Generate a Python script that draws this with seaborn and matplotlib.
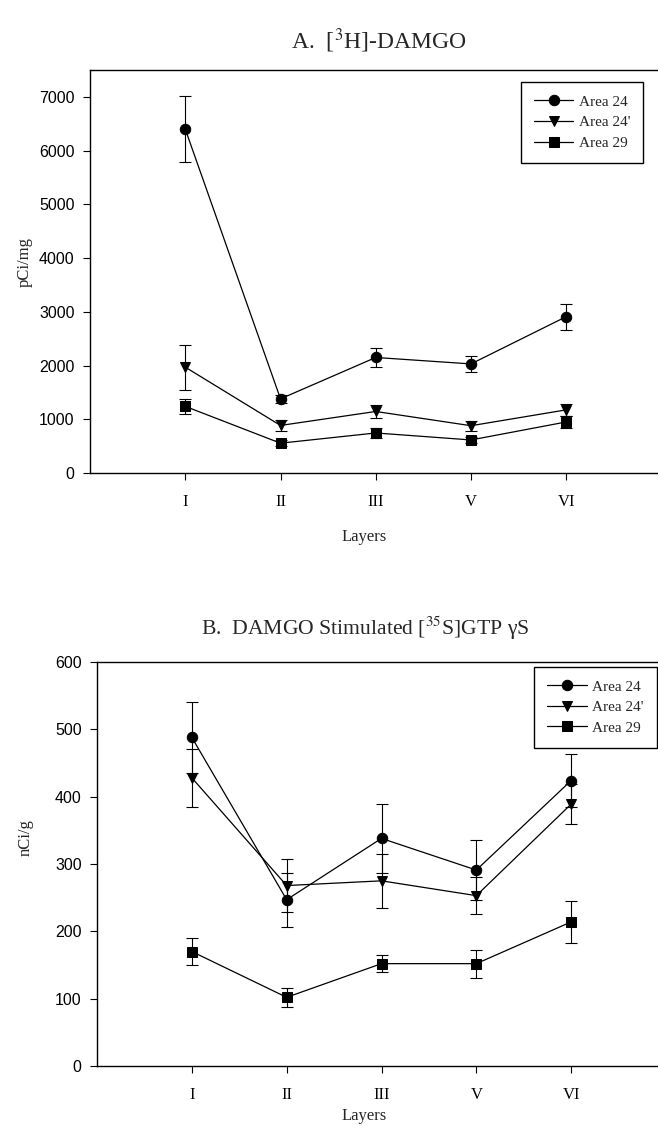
import matplotlib
matplotlib.use("Agg")
import matplotlib.pyplot as plt
import numpy as np
import pandas as pd
import seaborn as sns

LAYERS = ["I", "II", "III", "V", "VI"]
AREAS = ["Area 24", "Area 24'", "Area 29"]

# panel A: [3H]-DAMGO binding, pCi/mg
damgo_24 = [6400, 1380, 2150, 2030, 2910]
damgo_24_err = [610, 80, 170, 150, 240]
damgo_24p = [1970, 885, 1145, 880, 1175]
damgo_24p_err = [420, 100, 120, 90, 110]
damgo_29 = [1240, 555, 745, 615, 950]
damgo_29_err = [140, 50, 90, 50, 110]

# panel B: DAMGO stimulated [35S]GTPgS, nCi/g
gtp_24 = [488, 247, 338, 291, 424]
gtp_24_err = [53, 40, 51, 44, 40]
gtp_24p = [428, 268, 275, 253, 389]
gtp_24p_err = [43, 39, 40, 27, 30]
gtp_29 = [170, 102, 152, 152, 214]
gtp_29_err = [20, 14, 13, 21, 31]

MARKERS = {"Area 24": "o", "Area 24'": "v", "Area 29": "s"}
SERIF = "Liberation Serif"
SANS = "Liberation Sans"


def _frame(values, errors):
    rows = []
    pos = np.arange(1, len(LAYERS) + 1)
    for area, vals, errs in zip(AREAS, values, errors):
        for p, layer, v, e in zip(pos, LAYERS, vals, errs):
            rows.append({"pos": p, "layer": layer, "area": area, "value": v, "err": e})
    return pd.DataFrame(rows)


def _panel(ax, df, ymax, ystep, ylabel, legend_anchor):
    sns.lineplot(
        data=df, x="pos", y="value", hue="area", style="area",
        markers=MARKERS, dashes=False, palette=["black"] * 3,
        markersize=7.5, linewidth=0.9, markeredgecolor="black",
        ax=ax, errorbar=None,
    )
    for area in AREAS:
        sub = df[df["area"] == area]
        ax.errorbar(sub["pos"], sub["value"], yerr=sub["err"], fmt="none",
                    ecolor="black", elinewidth=0.8, capsize=4, capthick=0.8)
    ax.set_xlim(0, 6)
    ax.set_ylim(0, ymax)
    ax.set_yticks(np.arange(0, ymax + 1, ystep))
    ax.set_xticks(np.arange(1, len(LAYERS) + 1))
    ax.set_xticklabels(LAYERS, fontfamily=SERIF, fontsize=12)
    for t in ax.get_yticklabels():
        t.set_fontfamily(SANS)
        t.set_fontsize(11.5)
    ax.tick_params(direction="out", length=5, width=0.8, colors="black")
    ax.tick_params(axis="x", pad=10)
    ax.tick_params(axis="y", pad=6)
    ax.set_xlabel("Layers", fontfamily=SERIF, fontsize=12)
    ax.set_ylabel(ylabel, fontfamily=SERIF, fontsize=12)
    for s in ax.spines.values():
        s.set_color("black")
        s.set_linewidth(1.0)
    sns.move_legend(
        ax, "upper right", bbox_to_anchor=legend_anchor, title=None,
        frameon=True, fancybox=False, edgecolor="black", framealpha=1,
        prop={"family": SERIF, "size": 11}, handlelength=2.6,
        borderpad=0.85, labelspacing=0.45, handletextpad=0.35,
        borderaxespad=0,
    )
    ax.get_legend().get_frame().set_linewidth(1.0)


sns.set_theme(style="ticks")
plt.rcParams["mathtext.fontset"] = "stix"
plt.rcParams["font.family"] = [SERIF, "DejaVu Serif"]

fig = plt.figure(figsize=(6.58, 11.28), dpi=100)
W, H = 658, 1128
axA = fig.add_axes([90 / W, 1 - 473 / H, (661.5 - 90) / W, (473 - 70) / H])
axB = fig.add_axes([97 / W, 1 - 1066 / H, (666 - 97) / W, (1066 - 662) / H])

dfA = _frame([damgo_24, damgo_24p, damgo_29], [damgo_24_err, damgo_24p_err, damgo_29_err])
dfB = _frame([gtp_24, gtp_24p, gtp_29], [gtp_24_err, gtp_24p_err, gtp_29_err])

_panel(axA, dfA, 7500, 1000, "pCi/mg", (0.968, 0.970))
_panel(axB, dfB, 600, 100, "nCi/g", (0.984, 0.988))

axA.xaxis.set_label_coords(0.48, -0.139)
axB.xaxis.set_label_coords(0.47, -0.105)
axA.yaxis.set_label_coords(-0.1, 0.524)
axB.yaxis.set_label_coords(-0.112, 0.565)

fig.text(379 / W, 1 - 49 / H, r"A.  [$^{3}$H]-DAMGO", ha="center", va="baseline",
         fontsize=17, fontfamily=SERIF)
fig.text(365 / W, 1 - 635 / H, r"B.  DAMGO Stimulated [$^{35}$S]GTP γS", ha="center",
         va="baseline", fontsize=15.6, fontfamily=SERIF)

fig.savefig("out.png", dpi=100, facecolor="white")
